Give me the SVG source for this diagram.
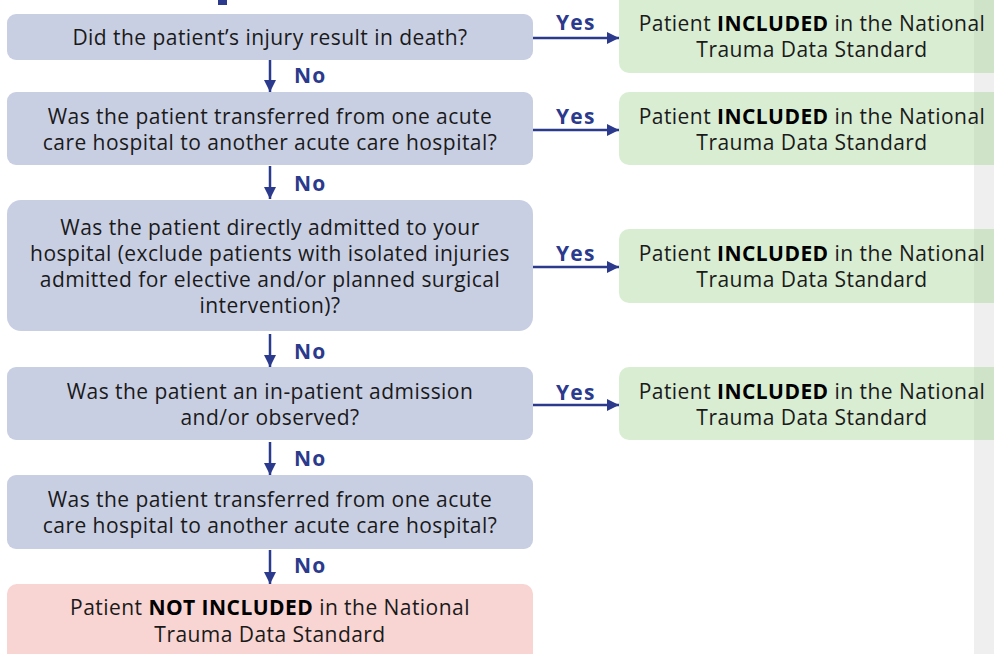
<svg xmlns="http://www.w3.org/2000/svg" width="994" height="654" viewBox="0 0 994 654">
<defs>
<style>
.q{fill:#c9cfe3}
.g{fill:rgb(160,210,142);fill-opacity:0.4}
.r{fill:#f8d4d2}
.t{font-family:"Open Sans",Lato,sans-serif;font-size:21px;letter-spacing:0.45px;fill:#1a1a1a;text-anchor:middle}
.t tspan.b{font-weight:bold;fill:#000}
.l{font-family:"Open Sans",Lato,sans-serif;font-size:21px;letter-spacing:1.2px;font-weight:bold;fill:#2b3a8c}
.c{stroke:#2b3a8c;stroke-width:2.5;fill:none}
</style>
<marker id="ah" viewBox="0 0 12 12" refX="12" refY="6" markerWidth="12" markerHeight="12" markerUnits="userSpaceOnUse" orient="auto">
<path d="M0,0 L12,6 L0,12 z" fill="#2b3a8c"/>
</marker>
</defs>
<rect width="994" height="654" fill="#fff"/>
<rect x="974" y="0" width="20" height="654" fill="#efefef"/>
<rect x="218" y="0" width="9" height="5" fill="#2b3a8c"/>

<g id="q1"><rect class="q" x="7" y="14" width="526" height="46" rx="9"/>
<text class="t" x="270" y="45">Did the patient’s injury result in death?</text></g>
<g id="q2"><rect class="q" x="7" y="92" width="526" height="73" rx="9"/>
<text class="t" x="270" y="124">Was the patient transferred from one acute</text>
<text class="t" x="270" y="150">care hospital to another acute care hospital?</text></g>
<g id="q3"><rect class="q" x="7" y="200" width="526" height="131" rx="14"/>
<text class="t" x="270" y="235">Was the patient directly admitted to your</text>
<text class="t" x="270" y="261">hospital (exclude patients with isolated injuries</text>
<text class="t" x="270" y="287">admitted for elective and/or planned surgical</text>
<text class="t" x="270" y="313">intervention)?</text></g>
<g id="q4"><rect class="q" x="7" y="367" width="526" height="73" rx="9"/>
<text class="t" x="270" y="399">Was the patient an in-patient admission</text>
<text class="t" x="270" y="425">and/or observed?</text></g>
<g id="q5"><rect class="q" x="7" y="475" width="526" height="74" rx="9"/>
<text class="t" x="270" y="507">Was the patient transferred from one acute</text>
<text class="t" x="270" y="533">care hospital to another acute care hospital?</text></g>
<g id="no"><rect class="r" x="7" y="584" width="526" height="80" rx="10"/>
<text class="t" x="270" y="615">Patient <tspan class="b">NOT INCLUDED</tspan> in the National</text>
<text class="t" x="270" y="642">Trauma Data Standard</text></g>

<g id="y1"><rect class="g" x="619" y="-10" width="390" height="83" rx="10"/>
<text class="t" x="812" y="31">Patient <tspan class="b">INCLUDED</tspan> in the National</text>
<text class="t" x="812" y="57">Trauma Data Standard</text></g>
<g id="y2"><rect class="g" x="619" y="92" width="390" height="73" rx="10"/>
<text class="t" x="812" y="124">Patient <tspan class="b">INCLUDED</tspan> in the National</text>
<text class="t" x="812" y="150">Trauma Data Standard</text></g>
<g id="y3"><rect class="g" x="619" y="229" width="390" height="74" rx="10"/>
<text class="t" x="812" y="261">Patient <tspan class="b">INCLUDED</tspan> in the National</text>
<text class="t" x="812" y="287">Trauma Data Standard</text></g>
<g id="y4"><rect class="g" x="619" y="367" width="390" height="73" rx="10"/>
<text class="t" x="812" y="399">Patient <tspan class="b">INCLUDED</tspan> in the National</text>
<text class="t" x="812" y="425">Trauma Data Standard</text></g>

<g id="connectors">
<path class="c" d="M533,38 H619" marker-end="url(#ah)"/>
<path class="c" d="M533,130 H619" marker-end="url(#ah)"/>
<path class="c" d="M533,267 H619" marker-end="url(#ah)"/>
<path class="c" d="M533,405 H619" marker-end="url(#ah)"/>
<path class="c" d="M270,60 V92" marker-end="url(#ah)"/>
<path class="c" d="M270,166 V199" marker-end="url(#ah)"/>
<path class="c" d="M270,334 V367" marker-end="url(#ah)"/>
<path class="c" d="M270,442 V475" marker-end="url(#ah)"/>
<path class="c" d="M270,550 V584" marker-end="url(#ah)"/>
<text class="l" x="556" y="30">Yes</text>
<text class="l" x="556" y="124">Yes</text>
<text class="l" x="556" y="261">Yes</text>
<text class="l" x="556" y="400">Yes</text>
<text class="l" x="294" y="83">No</text>
<text class="l" x="294" y="191">No</text>
<text class="l" x="294" y="359">No</text>
<text class="l" x="294" y="466">No</text>
<text class="l" x="294" y="573">No</text>
</g>
</svg>
